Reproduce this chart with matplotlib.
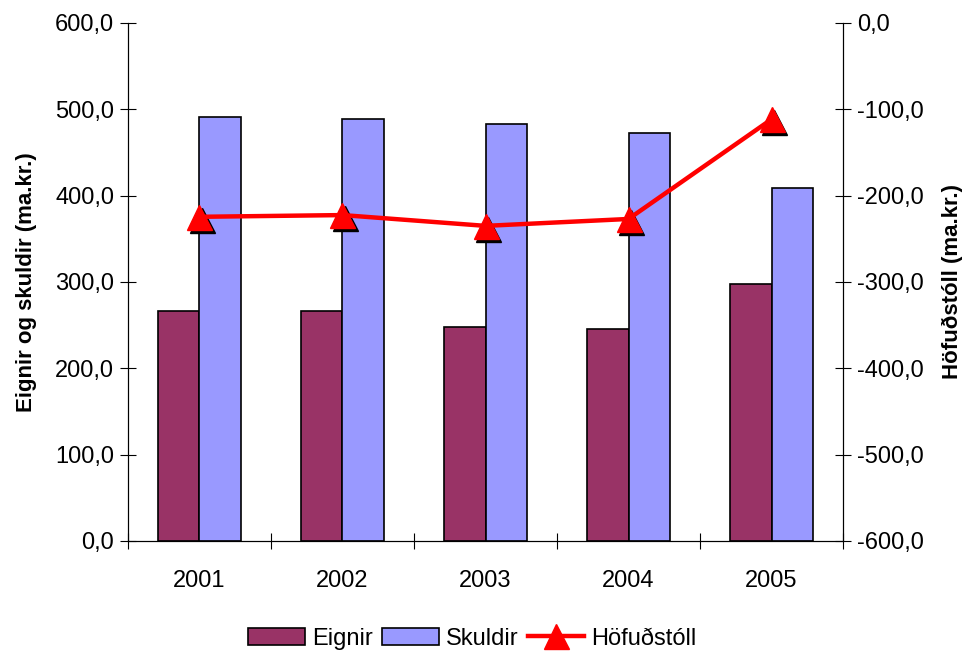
import matplotlib
matplotlib.use("Agg")
import matplotlib.pyplot as plt
import matplotlib.transforms as mtransforms
from matplotlib.ticker import FuncFormatter, FixedLocator
import numpy as np

ar = ["2001", "2002", "2003", "2004", "2005"]
eignir = [266.5, 266.5, 248.0, 245.5, 297.5]
skuldir = [491.0, 489.0, 483.0, 472.5, 409.0]
hofudstoll = [-224.5, -222.5, -235.0, -227.0, -111.5]

plt.rcParams['font.family'] = ['Liberation Sans', 'DejaVu Sans']

fig = plt.figure(figsize=(9.68, 6.57), dpi=100)
ax = fig.add_axes([0.1322, 0.1766, 0.7387, 0.7884])
ax2 = ax.twinx()

x = np.arange(len(ar))
w = 0.287
ax.bar(x - w / 2, eignir, w, color="#993366", edgecolor="black", linewidth=1.2, label="Eignir")
ax.bar(x + w / 2, skuldir, w, color="#9999FF", edgecolor="black", linewidth=1.2, label="Skuldir")

# skuggi undir merkjum
skuggi = mtransforms.offset_copy(ax2.transData, fig=fig, x=2.5, y=-3, units='dots')
ax2.plot(x, hofudstoll, linestyle='none', marker='^', markersize=18, color='black',
         transform=skuggi, zorder=3)
ax2.plot(x, hofudstoll, color='#FF0000', linewidth=3.2, marker='^', markersize=18,
         markeredgecolor='#FF0000', zorder=4, label="Höfuðstóll")

ax.set_xlim(-0.5, len(ar) - 0.5)
ax.set_ylim(0, 600)
ax2.set_ylim(-600, 0)
ax.set_yticks(np.arange(0, 601, 100))
ax2.set_yticks(np.arange(-600, 1, 100))

fmt = FuncFormatter(lambda v, p: f"{v:.1f}".replace(".", ",").replace("-0,0", "0,0"))
ax.yaxis.set_major_formatter(fmt)
ax2.yaxis.set_major_formatter(fmt)

ax.set_xticks(x)
ax.set_xticklabels(ar)
ax.xaxis.set_minor_locator(FixedLocator(np.arange(-0.5, len(ar), 1.0)))
ax.tick_params(axis='x', which='major', length=0, pad=21, labelsize=17)
ax.tick_params(axis='x', which='minor', direction='inout', length=11, width=0.8)
ax.tick_params(axis='y', direction='inout', length=12, width=0.8, labelsize=17, pad=4)
ax2.tick_params(axis='y', direction='inout', length=12, width=0.8, labelsize=17, pad=4)

for a in (ax, ax2):
    a.spines['top'].set_visible(False)
    for s in ('left', 'right', 'bottom'):
        a.spines[s].set_linewidth(0.8)

ax.set_ylabel("Eignir og skuldir (ma.kr.)", fontsize=16, fontweight='bold', labelpad=13)
ax2.set_ylabel("Höfuðstóll (ma.kr.)", fontsize=16, fontweight='bold', labelpad=13)

h1, l1 = ax.get_legend_handles_labels()
h2, l2 = ax2.get_legend_handles_labels()
fig.legend(h1 + h2, l1 + l2, loc='center', bbox_to_anchor=(0.488, 0.028), ncol=3,
           frameon=False, fontsize=17, handlelength=2.4, columnspacing=0.4, handletextpad=0.3)

fig.savefig("out.png", dpi=100)
